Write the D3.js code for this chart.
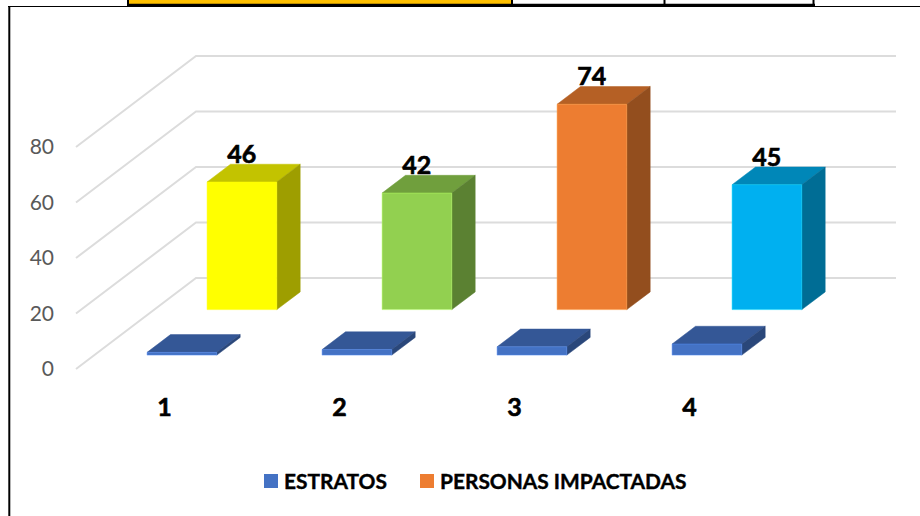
<!DOCTYPE html>
<html><head><meta charset="utf-8">
<script src="https://cdn.jsdelivr.net/npm/d3@7"></script>
<style>html,body{margin:0;padding:0;background:#fff}svg{display:block}text{font-family:Lato,sans-serif}</style>
</head><body><svg id="c" width="920" height="516"></svg>
<script>
const categories = ["1","2","3","4"];
const seriesNames = ["ESTRATOS","PERSONAS IMPACTADAS"];
const estratos = [1,2,3,4];
const personas = [46,42,74,45];
const yTicks = [0,20,40,60,80];
const estratosColors = ["#4472c4","#4472c4","#4472c4","#4472c4"];
const personasColors = ["#ffff00","#92d050","#ed7d31","#00b0f0"];
const legendColors = ["#4472c4","#ed7d31"];

const svg = d3.select("#c");
const x = d3.scaleBand().domain(categories).range([76,776]).paddingInner(.6).paddingOuter(.3);
const y = d3.scaleLinear().domain([0,80]).range([369,147]);
const depth = d3.scaleBand().domain(seriesNames).range([0,1]).paddingInner(.61).paddingOuter(.305);
const depthX = 120, depthY = 91;
const px = (xv,d)=> xv + d*depthX;
const py = (v,d)=> y(v) - d*depthY;
const poly = pts => pts.map(p=>p.join(",")).join(" ");

// page frame and the table edge above the chart
const frame = svg.append("g");
frame.append("rect").attr("x",129).attr("y",0).attr("width",382).attr("height",4).attr("fill","#ffc000");
frame.append("line").attr("x1",9.3).attr("x2",9.3).attr("y1",6).attr("y2",516).attr("stroke","#000").attr("stroke-width",2);
frame.append("line").attr("x1",8).attr("x2",920).attr("y1",6.5).attr("y2",6.5).attr("stroke","#000").attr("stroke-width",1);
frame.append("line").attr("x1",127).attr("x2",815).attr("y1",5).attr("y2",5).attr("stroke","#000").attr("stroke-width",2.5);
[128,512,664.5,813.5].forEach(v=>frame.append("line").attr("x1",v).attr("x2",v).attr("y1",0).attr("y2",6).attr("stroke","#000").attr("stroke-width",2));

// floor/wall gridlines
const grid = svg.append("g").attr("fill","none").attr("stroke","#dcdcdc").attr("stroke-width",2);
grid.selectAll("polyline").data(yTicks).join("polyline")
  .attr("points",t=>poly([[px(76,0),py(t,0)],[px(76,1),py(t,1)],[px(776,1),py(t,1)]]));

// value axis
const axis = svg.append("g").attr("transform","translate(61,0)")
  .call(d3.axisLeft(y).tickValues(yTicks).tickSize(0).tickPadding(7));
axis.select(".domain").remove();
axis.selectAll("text").attr("fill","#595959").style("font-size","21px").style("font-family","Lato,sans-serif");

function bars(name, values, colors){
  const d0 = depth(name), d1 = d0 + depth.bandwidth();
  const g = svg.append("g");
  values.forEach((v,i)=>{
    const c = categories[i], l = x(c)+.3, r = l + x.bandwidth()-.3;
    const col = d3.color(colors[i]);
    const edge = col.brighter(.6).formatHex();
    const b = g.append("g").attr("stroke-width",.5).attr("stroke-linejoin","round");
    const top = d3.rgb(col.r*.765,col.g*.765,col.b*.765).formatHex();
    const side = d3.rgb(col.r*.62,col.g*.62,col.b*.62).formatHex();
    b.append("polygon").attr("fill",top).attr("stroke",top)
      .attr("points",poly([[px(l,d0),py(v,d0)],[px(r,d0),py(v,d0)],[px(r,d1),py(v,d1)],[px(l,d1),py(v,d1)]]));
    b.append("polygon").attr("fill",side).attr("stroke",side)
      .attr("points",poly([[px(r,d0),py(0,d0)],[px(r,d1),py(0,d1)],[px(r,d1),py(v,d1)],[px(r,d0),py(v,d0)]]));
    b.append("polygon").attr("fill",colors[i]).attr("stroke",edge)
      .attr("points",poly([[px(l,d0),py(0,d0)],[px(r,d0),py(0,d0)],[px(r,d0),py(v,d0)],[px(l,d0),py(v,d0)]]));
  });
}
bars(seriesNames[1], personas, personasColors);
bars(seriesNames[0], estratos, estratosColors);

// data labels of the back series
const dB0 = depth(seriesNames[1]), dB1 = dB0 + depth.bandwidth();
svg.append("g").selectAll("text").data(personas).join("text")
  .attr("x",(v,i)=>px(x(categories[i])+x.bandwidth()/2,dB0))
  .attr("y",v=>py(v,dB1)-1.5)
  .attr("text-anchor","middle").attr("font-weight",700).attr("font-size",25).attr("fill","#000")
  .attr("stroke","#000").attr("stroke-width",.6)
  .text(v=>v);

// category labels
svg.append("g").selectAll("text").data(categories).join("text")
  .attr("x",c=>x(c)+x.bandwidth()/2+1).attr("y",416)
  .attr("text-anchor","middle").attr("font-weight",700).attr("font-size",25).attr("fill","#000")
  .attr("stroke","#000").attr("stroke-width",.6)
  .text(c=>c);

// legend
const lx = [264,420];
const leg = svg.append("g").selectAll("g").data(seriesNames).join("g").attr("transform",(d,i)=>`translate(${lx[i]},474)`);
leg.append("rect").attr("width",14).attr("height",14).attr("fill",(d,i)=>legendColors[i]);
leg.append("text").attr("x",20).attr("y",14.5).attr("font-weight",700).attr("font-size",20.9).attr("fill","#000")
  .attr("stroke","#000").attr("stroke-width",.4).text(d=>d);
</script></body></html>
